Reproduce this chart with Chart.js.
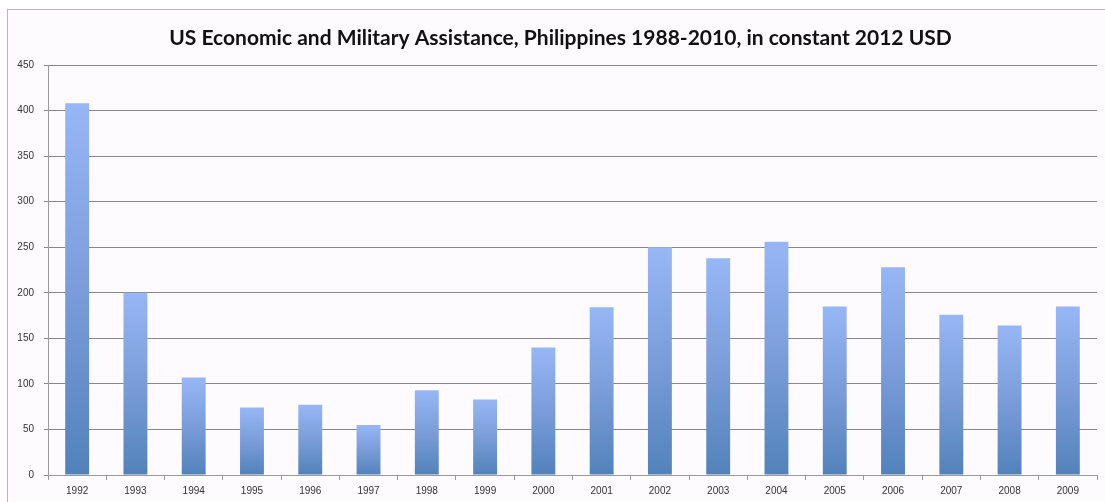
<!DOCTYPE html>
<html lang="en">
<head>
<meta charset="UTF-8" />
<title>US Assistance, Philippines</title>
<script src="https://cdn.jsdelivr.net/npm/chart.js"></script>
<style>
    html, body { margin: 0; padding: 0; background: #fff; overflow: hidden; }
    .moldura {
        position: absolute; left: 7px; top: 9px; width: 1200px; height: 600px;
        border: 1px solid #b8b8b8; background: #fdfbfd;
    }
    .graph { position: absolute; left: 0; top: 0; width: 1105px; height: 502px; }
</style>
</head>
<body>
<div class="moldura"></div>
<div class="graph"><canvas id="myChart"></canvas></div>

<script>
    // anos e valores (milhões USD constantes de 2012)
    const anos = ['1992', '1993', '1994', '1995', '1996', '1997', '1998', '1999', '2000',
        '2001', '2002', '2003', '2004', '2005', '2006', '2007', '2008', '2009'];
    const assistencia = [408, 200, 107, 74, 77, 55, 93, 83, 140,
        184, 250, 238, 256, 185, 228, 176, 164, 185];
    const ticksY = [0, 50, 100, 150, 200, 250, 300, 350, 400, 450];
    const titulo = 'US Economic and Military Assistance, Philippines 1988-2010, in constant 2012 USD';

    // gradiente vertical por barra: claro no topo, escuro na base
    function corBarra(context) {
        const chart = context.chart;
        const y = chart.scales && chart.scales.y;
        if (!y || context.raw === undefined) return '#7c9fdc';
        const topo = y.getPixelForValue(context.raw);
        const base = y.getPixelForValue(0);
        if (!isFinite(topo) || !isFinite(base) || topo === base) return '#7c9fdc';
        const g = chart.ctx.createLinearGradient(0, topo, 0, base);
        g.addColorStop(0, '#97b6f6');
        g.addColorStop(0.5, '#7a9dd9');
        g.addColorStop(1, '#5282ba');
        return g;
    }

    // título desenhado no topo, centralizado dentro da moldura
    const pluginTitulo = {
        id: 'tituloArea',
        afterDraw(chart) {
            const ctx = chart.ctx;
            ctx.save();
            ctx.font = 'bold 21px Lato';
            ctx.fillStyle = '#111';
            ctx.textAlign = 'center';
            ctx.textBaseline = 'middle';
            ctx.fillText(titulo, chart.width / 2 + 8, 38);
            ctx.restore();
        }
    };

    const dados = {
        labels: anos,
        datasets: [{
            label: 'Assistance',
            data: assistencia,
            backgroundColor: corBarra,
            borderWidth: 0,
            categoryPercentage: 0.82,
            barPercentage: 0.5
        }]
    };

    const config = {
        type: 'bar',
        data: dados,
        plugins: [pluginTitulo],
        options: {
            responsive: true,
            maintainAspectRatio: false,
            animation: false,
            layout: { padding: { left: 0, right: 8, top: 65, bottom: 0 } },
            plugins: {
                legend: { display: false },
                tooltip: { enabled: false },
                title: { display: false }
            },
            scales: {
                x: {
                    offset: true,
                    grid: {
                        display: true, drawOnChartArea: false, drawTicks: true,
                        tickLength: 5, color: '#9a9a9a', offset: true
                    },
                    border: { color: '#9a9a9a' },
                    ticks: {
                        color: '#333', padding: 5,
                        font: { family: 'Liberation Sans', size: 10 }
                    },
                    afterFit: function (escala) { escala.height = 27; }
                },
                y: {
                    min: 0,
                    max: 450,
                    afterBuildTicks: function (escala) {
                        escala.ticks = ticksY.map(v => ({ value: v }));
                    },
                    grid: { color: '#888', tickLength: 4 },
                    border: { color: '#9a9a9a' },
                    ticks: {
                        color: '#333', padding: 10,
                        font: { family: 'Liberation Sans', size: 10 }
                    },
                    afterFit: function (escala) { escala.width = 48; }
                }
            }
        }
    };

    let myChart = new Chart(document.getElementById('myChart'), config);
</script>
</body>
</html>
